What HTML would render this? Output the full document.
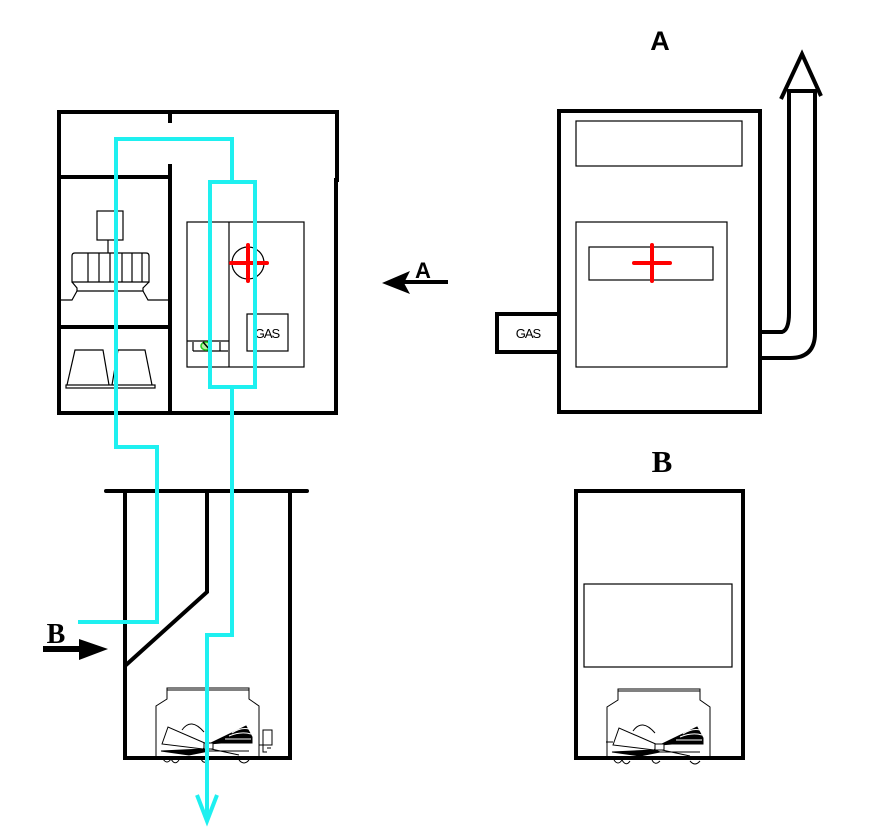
<!DOCTYPE html>
<html><head><meta charset="utf-8"><style>
html,body{margin:0;padding:0;background:#fff;}
svg{display:block;}
</style></head><body>
<svg width="880" height="834" viewBox="0 0 880 834" xmlns="http://www.w3.org/2000/svg">
<rect width="880" height="834" fill="#fff"/>

<!-- ===== Top-left unit ===== -->
<g stroke="#000" stroke-width="4" fill="none" stroke-linecap="square">
  <polyline points="59,413 59,112 337,112 337,180"/>
  <polyline points="336,180 336,413 59,413"/>
  <line x1="170" y1="112" x2="170" y2="121"/>
  <line x1="170" y1="166" x2="170" y2="413"/>
  <line x1="59" y1="177" x2="170" y2="177"/>
  <line x1="59" y1="327" x2="170" y2="327"/>
</g>
<!-- fan in upper-left compartment -->
<g stroke="#000" stroke-width="1.2" fill="none">
  <rect x="97" y="211" width="26" height="29"/>
  <line x1="108" y1="240" x2="108" y2="253"/>
  <path d="M72,282 V256 Q72,253 75,253 H146 Q149,253 149,256 V282 Z"/>
  <line x1="88" y1="253" x2="88" y2="282"/>
  <line x1="99" y1="253" x2="99" y2="282"/>
  <line x1="110" y1="253" x2="110" y2="282"/>
  <line x1="122" y1="253" x2="122" y2="282"/>
  <line x1="132" y1="253" x2="132" y2="282"/>
  <line x1="142" y1="253" x2="142" y2="282"/>
  <polyline points="72,282 77,288 77,291 143,291 143,288 149,282"/>
  <polyline points="59,300 72,300 77,291"/>
  <polyline points="143,291 148,300 170,300"/>
  <!-- pots -->
  <polyline points="67,385 75,350 103,350 109,385"/>
  <polyline points="112,385 118,350 145,350 152,385"/>
  <rect x="66" y="385" width="89" height="3"/>
</g>
<!-- control box -->
<g stroke="#000" stroke-width="1.2" fill="none">
  <rect x="187" y="222" width="117" height="145"/>
  <line x1="229" y1="222" x2="229" y2="367"/>
  <circle cx="248" cy="263" r="16"/>
  <rect x="247" y="314" width="41" height="37"/>
  <line x1="187" y1="341" x2="229" y2="341"/>
  <line x1="193" y1="351" x2="228" y2="351"/>
  <line x1="193" y1="342" x2="193" y2="351"/>
  <line x1="220" y1="342" x2="220" y2="351"/>
</g>
<ellipse cx="206" cy="346" rx="5" ry="4" fill="#b8f0a0" stroke="#22cc22" stroke-width="1.5"/>
<line x1="203" y1="342" x2="210" y2="350" stroke="#000" stroke-width="1.5"/>
<g stroke="#f00" stroke-width="4" stroke-linecap="round">
  <line x1="231" y1="263" x2="267" y2="263"/>
  <line x1="248" y1="245" x2="248" y2="281"/>
</g>
<text x="267" y="338" font-family="Liberation Sans, sans-serif" font-size="13" text-anchor="middle" letter-spacing="-1">GAS</text>

<!-- ===== Bottom-left unit ===== -->
<g stroke="#000" stroke-width="4" fill="none" stroke-linecap="round">
  <line x1="106" y1="491" x2="307" y2="491"/>
  <polyline points="125,491 125,758 290,758 290,491"/>
  <polyline points="207,491 207,592 126,665"/>
</g>

<!-- fans (bottom) -->
<g id="fanR" stroke="#000" stroke-width="1" fill="none">
  <rect x="618" y="689" width="82" height="2"/>
  <path d="M618,691 V700 L607,707 V757 M700,691 V700 L710,707 V757"/>
  <polygon points="613,745 619,728 658,745 654,750"/>
  <path d="M633,731 Q642,718 655,733"/>
  <polygon points="660,745 697,727 703,738 703,744 672,744" fill="#000"/>
  <path d="M683,734 Q692,728 700,730 M680,737 Q692,732 702,735 M676,740 H702" stroke="#fff"/>
  <rect x="655" y="744" width="9" height="6" fill="#fff"/>
  <path d="M612,752 L655,750 L660,752 L640,756 Z" fill="#000"/>
  <path d="M662,750 L690,756 M648,752 L700,752"/>
  <path d="M614,760 Q618,766 622,760 Q626,767 630,761 M652,760 Q655,766 660,761 M690,761 Q695,767 700,761"/>
  <line x1="606" y1="742" x2="613" y2="742"/>
</g>
<g stroke="#000" stroke-width="1" fill="none">
  <rect x="167" y="688" width="82" height="2"/>
  <path d="M167,690 V699 L156,706 V756 M249,690 V699 L259,706 V756"/>
  <polygon points="162,744 168,727 207,744 203,749"/>
  <path d="M182,730 Q191,717 204,732"/>
  <polygon points="209,744 246,726 252,737 252,743 221,743" fill="#000"/>
  <path d="M232,733 Q241,727 249,729 M229,736 Q241,731 251,734 M225,739 H251" stroke="#fff"/>
  <rect x="204" y="743" width="9" height="6" fill="#fff"/>
  <path d="M161,751 L204,749 L209,751 L189,755 Z" fill="#000"/>
  <path d="M211,749 L239,755 M197,751 L249,751"/>
  <path d="M163,759 Q167,765 171,759 Q175,766 179,760 M201,759 Q204,765 209,760 M239,760 Q244,766 249,760"/>
  <rect x="263" y="730" width="9" height="15"/>
  <path d="M263,745 V752 H267 M267,748 H271"/>
  <line x1="259" y1="745" x2="263" y2="745"/>
</g>

<!-- B arrow left -->
<text x="56" y="643" font-family="Liberation Serif, serif" font-weight="bold" font-size="28" text-anchor="middle">B</text>
<rect x="43" y="646" width="40" height="6" fill="#000"/>
<polygon points="79,639 108,649 79,660" fill="#000"/>

<!-- ===== Cyan flow lines ===== -->
<g stroke="#1ef0f0" stroke-width="4" fill="none" stroke-linejoin="miter">
  <polyline points="78,622 157,622 157,447 116,447 116,139 232,139 232,182"/>
  <rect x="210" y="182" width="45" height="205"/>
  <polyline points="232,387 232,635 207,635 207,821"/>
  <polyline points="197,795 207,821 217,795"/>
</g>

<!-- A arrow middle -->
<text x="423" y="278" font-family="Liberation Sans, sans-serif" font-weight="bold" font-size="22" text-anchor="middle">A</text>
<rect x="400" y="280" width="48" height="4" fill="#000"/>
<polygon points="382,283 410,271 404,283 410,294" fill="#000"/>

<!-- ===== Top-right unit ===== -->
<text x="660" y="50" font-family="Liberation Sans, sans-serif" font-weight="bold" font-size="27" text-anchor="middle">A</text>
<g stroke="#000" stroke-width="4" fill="none">
  <rect x="559" y="111" width="201" height="301"/>
  <rect x="497" y="314" width="62" height="38"/>
  <path d="M760,332 H782 Q789,330 789,313 V92"/>
  <path d="M760,358 H790 Q815,358 815,333 V92"/>
  <line x1="787" y1="91" x2="817" y2="91"/>
  <polyline points="781,99 802,54 821,96"/>
</g>
<g stroke="#000" stroke-width="1.2" fill="none">
  <rect x="576" y="121" width="166" height="45"/>
  <rect x="576" y="222" width="151" height="145"/>
  <rect x="589" y="247" width="124" height="33"/>
</g>
<g stroke="#f00" stroke-width="4" stroke-linecap="round">
  <line x1="634" y1="263" x2="670" y2="263"/>
  <line x1="652" y1="245" x2="652" y2="281"/>
</g>
<text x="528" y="338" font-family="Liberation Sans, sans-serif" font-size="13" text-anchor="middle" letter-spacing="-1">GAS</text>

<!-- ===== Bottom-right unit ===== -->
<text x="662" y="472" font-family="Liberation Serif, serif" font-weight="bold" font-size="31" text-anchor="middle">B</text>
<g stroke="#000" stroke-width="4" fill="none">
  <rect x="576" y="491" width="167" height="267"/>
</g>
<rect x="584" y="584" width="148" height="83" fill="none" stroke="#000" stroke-width="1.2"/>
</svg>
</body></html>
